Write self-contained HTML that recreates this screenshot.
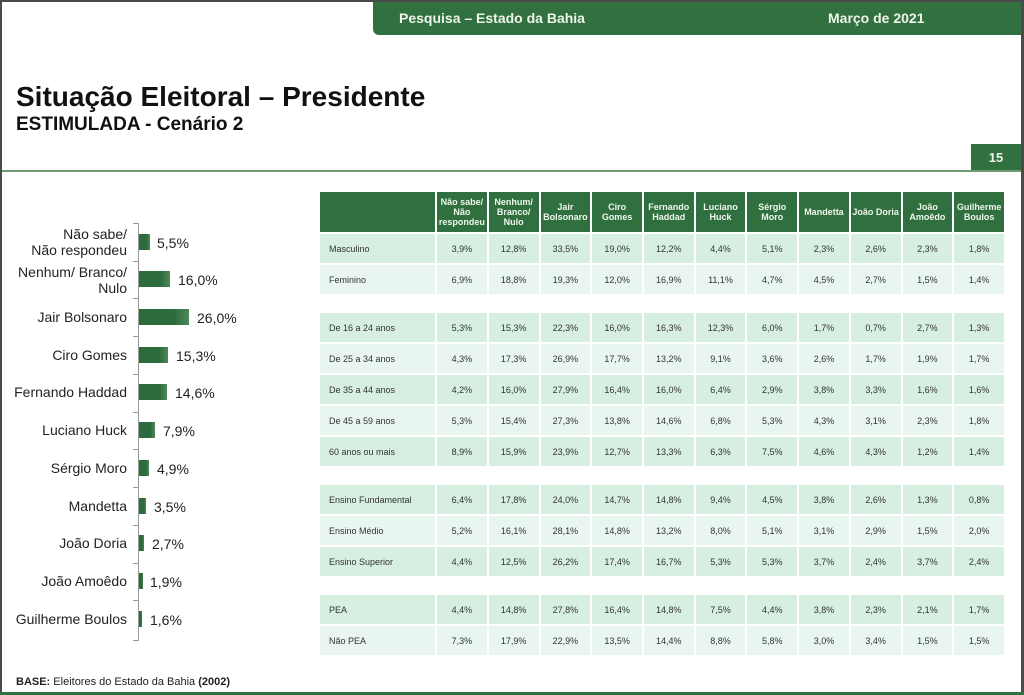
<!DOCTYPE html>
<html><head><meta charset="utf-8">
<style>
*{margin:0;padding:0;box-sizing:border-box}
body{width:1024px;height:695px;position:relative;background:#fff;font-family:"Liberation Sans",sans-serif;overflow:hidden}
.abs{position:absolute}
#band{left:373px;top:2px;width:648px;height:33px;background:#33703f;border-bottom-left-radius:6px;color:#eef5ea;font-weight:bold;font-size:14px}
#band span{position:absolute;top:8px}
.lbl{position:absolute;right:897px;text-align:right;font-size:14px;color:#222;line-height:16px}
.bar{position:absolute;left:139px;height:16px;background:linear-gradient(90deg,#2e6b3c 70%,#4d8a59 100%)}
.val{position:absolute;font-size:14px;color:#222}
table{position:absolute;left:318px;top:190px;border-collapse:separate;border-spacing:2px;table-layout:fixed;width:688px}
th{background:#30703e;color:#f0f6ee;font-size:9px;font-weight:bold;height:40px;line-height:10px;text-align:center;padding:0}
td{height:29px;font-size:9px;color:#333;text-align:center;padding:0}
td:first-child{text-align:left;padding-left:9px}
tr.d td{background:#d6efe1}
tr.l td{background:#e9f6ef}
tr.s td{height:15px;background:#fff}
</style></head><body>
<div class="abs" style="left:0;top:0;width:1024px;height:2px;background:#4a4a4a"></div>
<div class="abs" style="left:0;top:0;width:2px;height:695px;background:#4a4a4a"></div>
<div class="abs" style="left:1021px;top:0;width:3px;height:695px;background:#4a4a4a"></div>
<div class="abs" style="left:0;top:692px;width:1024px;height:3px;background:#33703f"></div>
<div id="band" class="abs"><span style="left:26px">Pesquisa – Estado da Bahia</span><span style="left:455px">Março de 2021</span></div>
<div class="abs" style="left:16px;top:81px;font-size:28px;font-weight:bold;color:#111">Situação Eleitoral – Presidente</div>
<div class="abs" style="left:16px;top:114px;font-size:19px;font-weight:bold;color:#111">ESTIMULADA - Cenário 2</div>
<div class="abs" style="left:971px;top:144px;width:50px;height:26px;background:#33703f;color:#eef5ea;font-weight:bold;font-size:13px;text-align:center;line-height:27px">15</div>
<div class="abs" style="left:2px;top:170px;width:1019px;height:2px;background:#6f9c73"></div>

<div class="abs" style="left:138px;top:223px;width:1px;height:418px;background:#999"></div>
<div class="abs" style="left:133px;top:223px;width:5px;height:1px;background:#999"></div>
<div class="abs" style="left:133px;top:261px;width:5px;height:1px;background:#999"></div>
<div class="abs" style="left:133px;top:298px;width:5px;height:1px;background:#999"></div>
<div class="abs" style="left:133px;top:336px;width:5px;height:1px;background:#999"></div>
<div class="abs" style="left:133px;top:374px;width:5px;height:1px;background:#999"></div>
<div class="abs" style="left:133px;top:412px;width:5px;height:1px;background:#999"></div>
<div class="abs" style="left:133px;top:449px;width:5px;height:1px;background:#999"></div>
<div class="abs" style="left:133px;top:487px;width:5px;height:1px;background:#999"></div>
<div class="abs" style="left:133px;top:525px;width:5px;height:1px;background:#999"></div>
<div class="abs" style="left:133px;top:563px;width:5px;height:1px;background:#999"></div>
<div class="abs" style="left:133px;top:600px;width:5px;height:1px;background:#999"></div>
<div class="abs" style="left:133px;top:640px;width:5px;height:1px;background:#999"></div>

<div class="lbl" style="top:226px">Não sabe/<br>Não respondeu</div>
<div class="bar" style="top:234px;width:11px"></div><div class="val" style="left:157px;top:235px">5,5%</div>
<div class="lbl" style="top:264px">Nenhum/ Branco/<br>Nulo</div>
<div class="bar" style="top:271px;width:31px"></div><div class="val" style="left:178px;top:272px">16,0%</div>
<div class="lbl" style="top:309px">Jair Bolsonaro</div>
<div class="bar" style="top:309px;width:50px"></div><div class="val" style="left:197px;top:310px">26,0%</div>
<div class="lbl" style="top:347px">Ciro Gomes</div>
<div class="bar" style="top:347px;width:29px"></div><div class="val" style="left:176px;top:348px">15,3%</div>
<div class="lbl" style="top:384px">Fernando Haddad</div>
<div class="bar" style="top:384px;width:28px"></div><div class="val" style="left:175px;top:385px">14,6%</div>
<div class="lbl" style="top:422px">Luciano Huck</div>
<div class="bar" style="top:422px;width:16px"></div><div class="val" style="left:163px;top:423px">7,9%</div>
<div class="lbl" style="top:460px">Sérgio Moro</div>
<div class="bar" style="top:460px;width:10px"></div><div class="val" style="left:157px;top:461px">4,9%</div>
<div class="lbl" style="top:498px">Mandetta</div>
<div class="bar" style="top:498px;width:7px"></div><div class="val" style="left:154px;top:499px">3,5%</div>
<div class="lbl" style="top:535px">João Doria</div>
<div class="bar" style="top:535px;width:5px"></div><div class="val" style="left:152px;top:536px">2,7%</div>
<div class="lbl" style="top:573px">João Amoêdo</div>
<div class="bar" style="top:573px;width:4px"></div><div class="val" style="left:150px;top:574px">1,9%</div>
<div class="lbl" style="top:611px">Guilherme Boulos</div>
<div class="bar" style="top:611px;width:3px"></div><div class="val" style="left:150px;top:612px">1,6%</div>

<table>
<colgroup><col style="width:115px"><col span="11" style="width:49.7px"></colgroup>
<tr><th></th><th>Não sabe/<br>Não<br>respondeu</th><th>Nenhum/<br>Branco/<br>Nulo</th><th>Jair<br>Bolsonaro</th><th>Ciro<br>Gomes</th><th>Fernando<br>Haddad</th><th>Luciano<br>Huck</th><th>Sérgio<br>Moro</th><th>Mandetta</th><th>João Doria</th><th>João<br>Amoêdo</th><th>Guilherme<br>Boulos</th></tr>
<tr class="d"><td>Masculino</td><td>3,9%</td><td>12,8%</td><td>33,5%</td><td>19,0%</td><td>12,2%</td><td>4,4%</td><td>5,1%</td><td>2,3%</td><td>2,6%</td><td>2,3%</td><td>1,8%</td></tr>
<tr class="l"><td>Feminino</td><td>6,9%</td><td>18,8%</td><td>19,3%</td><td>12,0%</td><td>16,9%</td><td>11,1%</td><td>4,7%</td><td>4,5%</td><td>2,7%</td><td>1,5%</td><td>1,4%</td></tr>
<tr class="s"><td colspan="12"></td></tr>
<tr class="d"><td>De 16 a 24 anos</td><td>5,3%</td><td>15,3%</td><td>22,3%</td><td>16,0%</td><td>16,3%</td><td>12,3%</td><td>6,0%</td><td>1,7%</td><td>0,7%</td><td>2,7%</td><td>1,3%</td></tr>
<tr class="l"><td>De 25 a 34 anos</td><td>4,3%</td><td>17,3%</td><td>26,9%</td><td>17,7%</td><td>13,2%</td><td>9,1%</td><td>3,6%</td><td>2,6%</td><td>1,7%</td><td>1,9%</td><td>1,7%</td></tr>
<tr class="d"><td>De 35 a 44 anos</td><td>4,2%</td><td>16,0%</td><td>27,9%</td><td>16,4%</td><td>16,0%</td><td>6,4%</td><td>2,9%</td><td>3,8%</td><td>3,3%</td><td>1,6%</td><td>1,6%</td></tr>
<tr class="l"><td>De 45 a 59 anos</td><td>5,3%</td><td>15,4%</td><td>27,3%</td><td>13,8%</td><td>14,6%</td><td>6,8%</td><td>5,3%</td><td>4,3%</td><td>3,1%</td><td>2,3%</td><td>1,8%</td></tr>
<tr class="d"><td>60 anos ou mais</td><td>8,9%</td><td>15,9%</td><td>23,9%</td><td>12,7%</td><td>13,3%</td><td>6,3%</td><td>7,5%</td><td>4,6%</td><td>4,3%</td><td>1,2%</td><td>1,4%</td></tr>
<tr class="s"><td colspan="12"></td></tr>
<tr class="d"><td>Ensino Fundamental</td><td>6,4%</td><td>17,8%</td><td>24,0%</td><td>14,7%</td><td>14,8%</td><td>9,4%</td><td>4,5%</td><td>3,8%</td><td>2,6%</td><td>1,3%</td><td>0,8%</td></tr>
<tr class="l"><td>Ensino Médio</td><td>5,2%</td><td>16,1%</td><td>28,1%</td><td>14,8%</td><td>13,2%</td><td>8,0%</td><td>5,1%</td><td>3,1%</td><td>2,9%</td><td>1,5%</td><td>2,0%</td></tr>
<tr class="d"><td>Ensino Superior</td><td>4,4%</td><td>12,5%</td><td>26,2%</td><td>17,4%</td><td>16,7%</td><td>5,3%</td><td>5,3%</td><td>3,7%</td><td>2,4%</td><td>3,7%</td><td>2,4%</td></tr>
<tr class="s"><td colspan="12"></td></tr>
<tr class="d"><td>PEA</td><td>4,4%</td><td>14,8%</td><td>27,8%</td><td>16,4%</td><td>14,8%</td><td>7,5%</td><td>4,4%</td><td>3,8%</td><td>2,3%</td><td>2,1%</td><td>1,7%</td></tr>
<tr class="l"><td>Não PEA</td><td>7,3%</td><td>17,9%</td><td>22,9%</td><td>13,5%</td><td>14,4%</td><td>8,8%</td><td>5,8%</td><td>3,0%</td><td>3,4%</td><td>1,5%</td><td>1,5%</td></tr>
</table>

<div class="abs" style="left:16px;top:676px;font-size:11px;color:#222"><b>BASE:</b> Eleitores do Estado da Bahia <b>(2002)</b></div>
</body></html>
